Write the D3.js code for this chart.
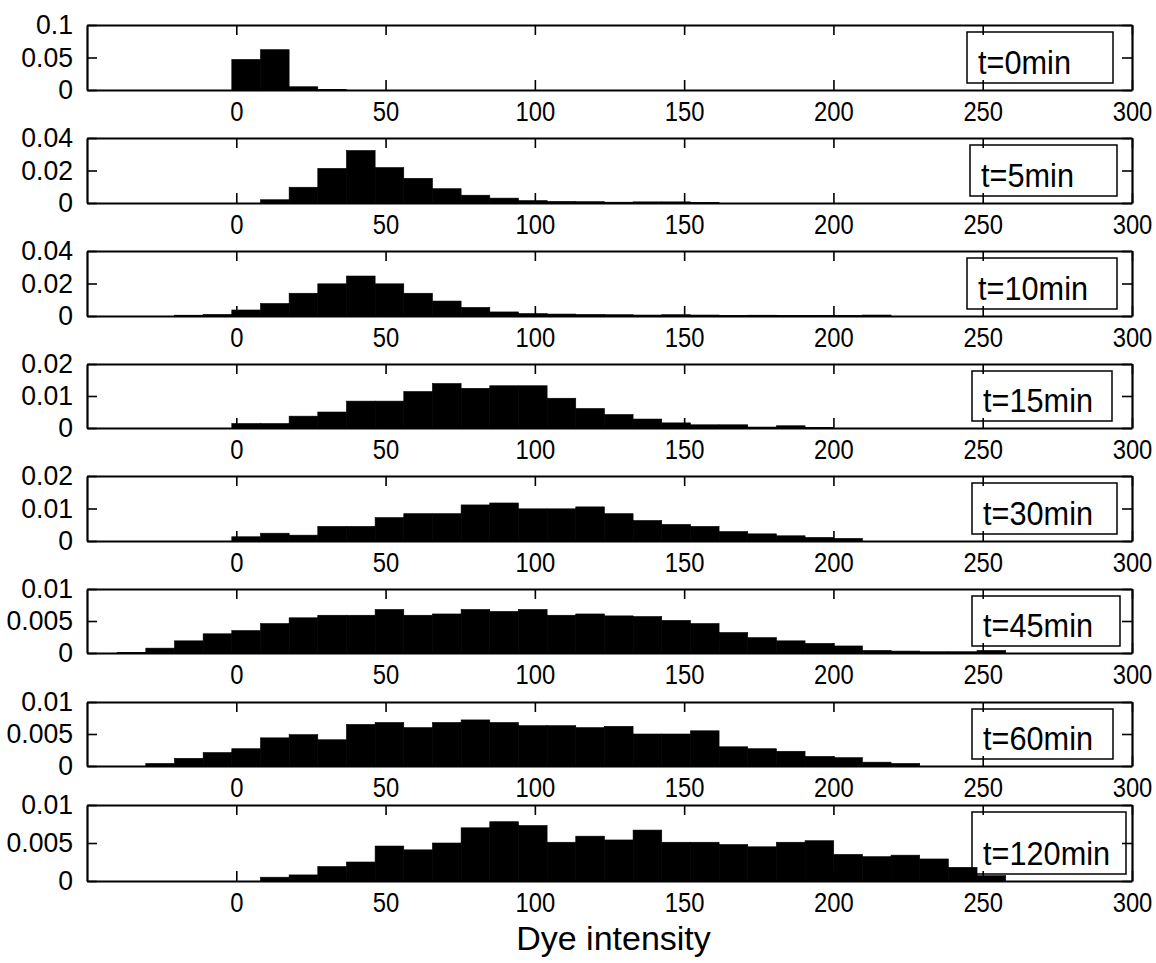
<!DOCTYPE html>
<html><head><meta charset="utf-8">
<script src="https://cdn.jsdelivr.net/npm/d3@7"></script>
<style>
body{margin:0;background:#fff}
svg{display:block}
text{font-family:"Liberation Sans",Arial,sans-serif;fill:#000}
</style>
</head><body>
<svg id="chart" width="1156" height="963"></svg>
<script>
// histogram bin centres (shared by all panels) and bin width
const binCenters = [-35.1,-25.5,-15.9,-6.3,3.3,12.9,22.5,32.1,41.7,51.3,60.9,70.5,80.1,89.7,99.3,108.9,
                    118.5,128.1,137.7,147.3,156.9,166.5,176.1,185.7,195.3,204.9,214.5,224.1,233.7,243.3,252.9,262.5];
const binWidth = 9.6;
const xTickValues = [0,50,100,150,200,250,300];
const xDomain = [-50,300];
const panelLabels = ["t=0min","t=5min","t=10min","t=15min","t=30min","t=45min","t=60min","t=120min"];
const yMaxes = [0.1,0.04,0.04,0.02,0.02,0.01,0.01,0.01];
const yTickValues = [[0,0.05,0.1],[0,0.02,0.04],[0,0.02,0.04],[0,0.01,0.02],[0,0.01,0.02],[0,0.005,0.01],[0,0.005,0.01],[0,0.005,0.01]];
const yTickLabels = [["0","0.05","0.1"],["0","0.02","0.04"],["0","0.02","0.04"],["0","0.01","0.02"],["0","0.01","0.02"],["0","0.005","0.01"],["0","0.005","0.01"],["0","0.005","0.01"]];
const xLabel = "Dye intensity";

// frequency per bin, one array per time point
const t0   = [0,0,0,0,0.047,0.062,0.005,0.001,0,0,0,0,0,0,0,0,0,0,0,0,0,0,0,0,0,0,0,0,0,0,0,0];
const t5   = [0,0,0,0,0,0.002,0.0097,0.0213,0.0323,0.0218,0.0152,0.0088,0.0048,0.003,0.0015,0.001,0.0008,0.0005,0.0007,0.0007,0.0003,0,0,0,0,0,0,0,0,0,0,0];
const t10  = [0,0,0.0005,0.001,0.0037,0.0077,0.014,0.0198,0.0246,0.0198,0.014,0.0092,0.0053,0.0025,0.0015,0.0012,0.001,0.0008,0.0006,0.0008,0.0006,0.0004,0.0005,0.0004,0.0003,0.0003,0.0006,0,0,0,0,0];
const t15  = [0,0,0,0,0.0014,0.0014,0.0037,0.005,0.0084,0.0084,0.0114,0.0139,0.0124,0.0132,0.0132,0.0093,0.0061,0.0042,0.0028,0.0016,0.001,0.001,0.0003,0.0007,0.0001,0,0,0,0,0,0,0];
const t30  = [0,0,0,0,0.0013,0.0024,0.0018,0.0045,0.0045,0.0072,0.0084,0.0084,0.0111,0.0117,0.0099,0.0099,0.0105,0.0084,0.0063,0.0051,0.0045,0.0029,0.0022,0.0016,0.0011,0.0008,0,0,0,0,0,0];
const t45  = [0.0001,0.00076,0.0019,0.003,0.0035,0.0046,0.0055,0.0059,0.0059,0.0068,0.0059,0.0061,0.0068,0.0065,0.0068,0.0059,0.0061,0.0058,0.0057,0.0051,0.0046,0.0032,0.0024,0.0019,0.0015,0.0011,0.0004,0.0003,0.0002,0.0002,0.0004,0];
const t60  = [0,0.0004,0.0012,0.0021,0.0027,0.0044,0.0049,0.0041,0.0065,0.0068,0.006,0.0068,0.0072,0.0068,0.0063,0.0063,0.006,0.0062,0.005,0.005,0.0055,0.003,0.0027,0.0023,0.0015,0.0013,0.0006,0.0004,0,0,0,0];
const t120 = [0,0,0,0,0,0.0005,0.0008,0.0019,0.0025,0.0046,0.0041,0.005,0.007,0.0078,0.0073,0.0051,0.0059,0.0054,0.0067,0.0051,0.0051,0.0048,0.0045,0.0051,0.0053,0.0035,0.0032,0.0034,0.0029,0.0018,0.0007,0];
const seriesList = [t0,t5,t10,t15,t30,t45,t60,t120];

// layout
const left = 87, right = 1132;
const panelBoxes = [[25,90],[138,203],[251,316],[364,428],[476,541],[589,653],[702,766],[805,881]];
const legendRight = [1113,1117,1117,1112,1117,1120,1113,1126];
const legendLeft  = [967,970,967,972,972,972,972,972];

const svg = d3.select("#chart");
const x = d3.scaleLinear().domain(xDomain).range([left,right]);

seriesList.forEach((vals,i)=>{
  const [top,bot] = panelBoxes[i];
  const y = d3.scaleLinear().domain([0,yMaxes[i]]).range([bot,top]);
  const g = svg.append("g");

  g.selectAll("rect.bar").data(vals.map((v,k)=>({c:binCenters[k],v})).filter(d=>d.v>0)).join("rect")
    .attr("class","bar")
    .attr("x",d=>x(d.c-binWidth/2))
    .attr("width",d=>x(d.c+binWidth/2)-x(d.c-binWidth/2))
    .attr("y",d=>y(d.v))
    .attr("height",d=>y(0)-y(d.v))
    .attr("fill","#000").attr("stroke","#000").attr("stroke-width",0.6);

  // legend box
  const lt = top+7, lb = bot-7;
  g.append("rect").attr("x",legendLeft[i]).attr("y",lt)
    .attr("width",legendRight[i]-legendLeft[i]).attr("height",lb-lt)
    .attr("fill","none").attr("stroke","#000").attr("stroke-width",1.5);
  const lx = legendLeft[i]+11;
  g.append("text").attr("x",0).attr("y",0)
    .attr("transform",`translate(${lx},${lb-9}) scale(0.93,1)`)
    .attr("font-size",33).text(panelLabels[i]);

  // axes
  const ax = d3.axisBottom(x).tickValues(xTickValues).tickSizeInner(-10).tickSizeOuter(0).tickPadding(11).tickFormat(d=>String(d));
  const axT = d3.axisTop(x).tickValues(xTickValues).tickSizeInner(-10).tickSizeOuter(0).tickFormat("");
  const ay = d3.axisLeft(y).tickValues(yTickValues[i]).tickSizeInner(-10).tickSizeOuter(0).tickPadding(14)
     .tickFormat((d,j)=>yTickLabels[i][j]);
  const ayR = d3.axisRight(y).tickValues(yTickValues[i]).tickSizeInner(-10).tickSizeOuter(0).tickFormat("");

  const style = sel => {
    sel.select(".domain").attr("stroke","#000").attr("stroke-width",2.2);
    sel.selectAll(".tick line").attr("stroke","#000").attr("stroke-width",1.6);
    sel.selectAll("text").attr("font-size",28).attr("font-family","Liberation Sans, Arial, sans-serif").attr("fill","#000");
  };
  g.append("g").attr("transform",`translate(0,${bot})`).call(ax).call(style)
    .selectAll(".tick text").attr("transform","scale(0.85,1)");
  g.append("g").attr("transform",`translate(0,${top})`).call(axT).call(style);
  g.append("g").attr("transform",`translate(${left},0)`).call(ay).call(style)
    .selectAll(".tick text").attr("x",-14/0.95).attr("transform","scale(0.95,1)");
  g.append("g").attr("transform",`translate(${right},0)`).call(ayR).call(style);
});

svg.append("text").attr("x",(left+right)/2+4).attr("y",950)
  .attr("text-anchor","middle").attr("font-size",34).text(xLabel);
</script>
</body></html>
